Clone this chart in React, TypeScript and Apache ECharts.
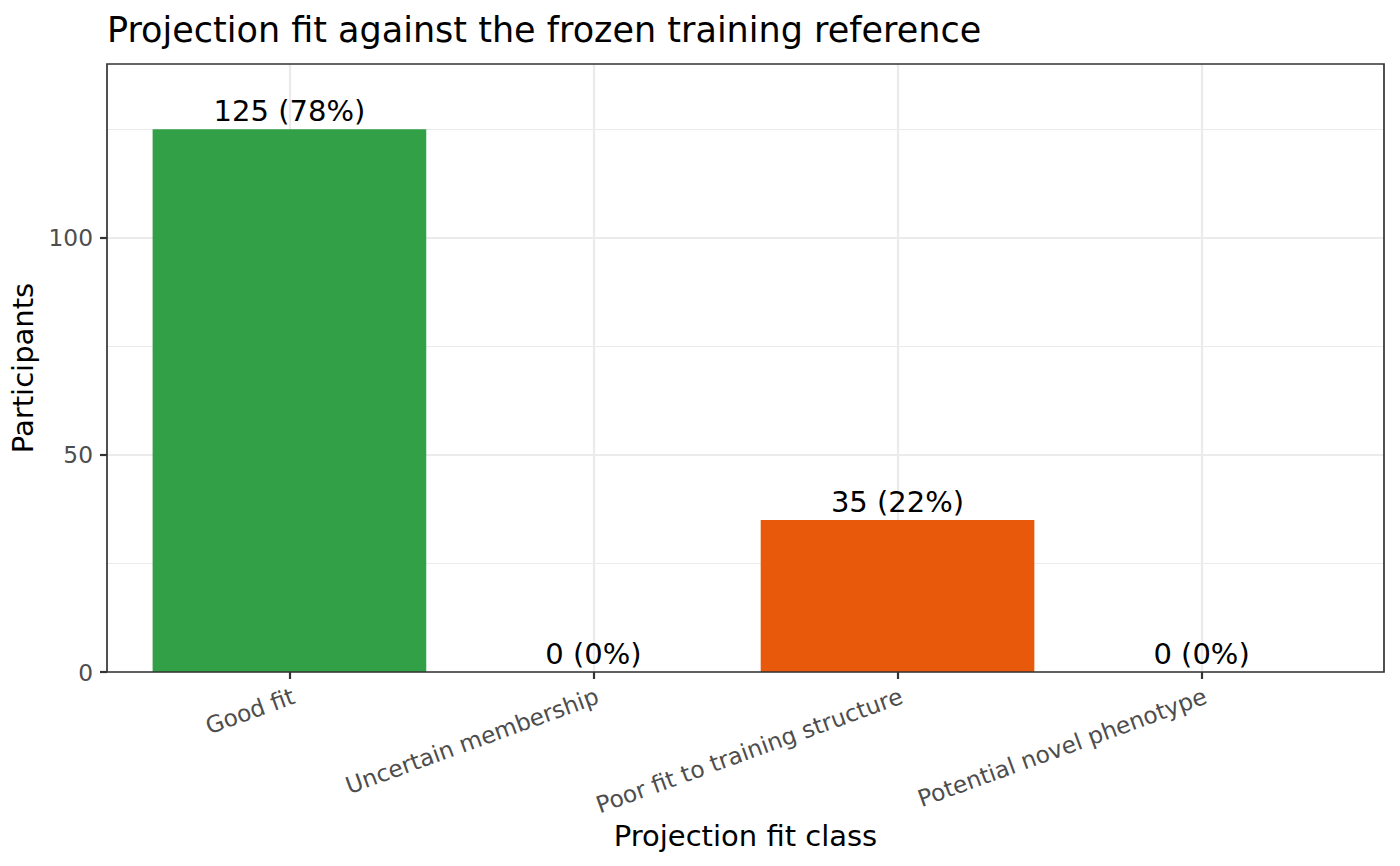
import React, { useEffect, useRef } from "react";
import * as echarts from "echarts";

const categories = [
  "Good fit",
  "Uncertain membership",
  "Poor fit to training structure",
  "Potential novel phenotype",
];
const counts = [125, 0, 35, 0];
const percents = ["78%", "0%", "22%", "0%"];
const barColors = ["#31A047", "#8C8C8C", "#E8590C", "#6A3D9A"];
const yTicks = [0, 50, 100];
const yMax = 140;

const FONT = "DejaVu Sans";

export default function App() {
  const ref = useRef<HTMLDivElement>(null);

  useEffect(() => {
    if (!ref.current) return;
    const chart = echarts.init(ref.current, undefined, { renderer: "svg" });

    const panel = { left: 107, top: 64, width: 1277, height: 608 };
    const unit = panel.width / (categories.length + 0.2);
    const catLeft = panel.left + 0.1 * unit;
    const catWidth = unit * categories.length;

    const option: any = {
      animation: false,
      backgroundColor: "#ffffff",
      textStyle: { fontFamily: FONT },
      title: {
        text: "Projection fit against the frozen training reference",
        left: panel.left,
        top: 12.7,
        padding: 0,
        textStyle: { fontSize: 35, fontWeight: "normal", color: "#000000", fontFamily: FONT },
      },
      grid: [
        { ...panel, show: false, containLabel: false, outerBoundsMode: "none" },
        { left: catLeft, top: panel.top, width: catWidth, height: panel.height, show: false, containLabel: false, outerBoundsMode: "none" },
      ],
      xAxis: [
        { gridIndex: 0, type: "value", min: 0, max: 1, show: false },
        {
          gridIndex: 1,
          type: "category",
          data: categories,
          boundaryGap: true,
          axisLine: { show: false },
          axisTick: { show: true, alignWithLabel: true, length: 7, lineStyle: { color: "#333333", width: 2.2 } },
          axisLabel: {
            interval: 0,
            rotate: 20,
            align: "right",
            verticalAlign: "top",
            margin: 12,
            fontSize: 23.3,
            color: "#4D4D4D",
            fontFamily: FONT,
          },
          splitLine: { show: false },
        },
      ],
      yAxis: [
        {
          gridIndex: 0,
          type: "value",
          min: 0,
          max: yMax,
          interval: 50,
          axisLine: { show: false },
          axisTick: { show: true, length: 7, customValues: yTicks, lineStyle: { color: "#333333", width: 2.2 } },
          axisLabel: { customValues: yTicks, margin: 14, fontSize: 23.3, color: "#4D4D4D", fontFamily: FONT },
          splitLine: { show: true, lineStyle: { color: "#EBEBEB", width: 2.2 } },
          minorTick: { show: false, splitNumber: 2 },
          minorSplitLine: { show: true, lineStyle: { color: "#EBEBEB", width: 1.1 } },
        },
        { gridIndex: 1, type: "value", min: 0, max: yMax, show: false },
      ],
      series: [
        {
          type: "line",
          xAxisIndex: 1,
          yAxisIndex: 1,
          data: [],
          silent: true,
          z: 1,
          markLine: {
            silent: true,
            symbol: "none",
            z: 1,
            label: { show: false },
            emphasis: { disabled: true },
            lineStyle: { color: "#EBEBEB", width: 2.2, type: "solid" },
            data: categories.map((c) => ({ xAxis: c })),
          },
        },
        {
          type: "bar",
          xAxisIndex: 1,
          yAxisIndex: 1,
          z: 3,
          barWidth: 0.9 * unit,
          data: counts.map((v, i) => ({ value: v, itemStyle: { color: barColors[i] } })),
          label: {
            show: true,
            position: "top",
            distance: 3.7,
            fontSize: 29,
            color: "#000000",
            fontFamily: FONT,
            formatter: (p: any) => `${counts[p.dataIndex]} (${percents[p.dataIndex]})`,
          },
        },
      ],
      graphic: [
        {
          type: "rect",
          z: 100,
          silent: true,
          shape: { x: panel.left, y: panel.top, width: panel.width, height: panel.height },
          style: { fill: "none", stroke: "#333333", lineWidth: 1.7 },
        },
        {
          type: "text",
          x: panel.left + panel.width / 2,
          y: 835.5,
          silent: true,
          style: {
            text: "Projection fit class",
            fontSize: 29,
            fontFamily: FONT,
            fill: "#000000",
            align: "center",
            verticalAlign: "middle",
            textAlign: "center",
            textVerticalAlign: "middle",
          },
        },
        {
          type: "text",
          x: 23.3,
          y: panel.top + panel.height / 2,
          rotation: Math.PI / 2,
          silent: true,
          style: {
            text: "Participants",
            fontSize: 29,
            fontFamily: FONT,
            fill: "#000000",
            align: "center",
            verticalAlign: "middle",
            textAlign: "center",
            textVerticalAlign: "middle",
          },
        },
      ],
    };

    chart.setOption(option);
    return () => chart.dispose();
  }, []);

  return (
    <div
      ref={ref}
      style={{ position: "fixed", left: 0, top: 0, width: 1400, height: 866, background: "#fff" }}
    />
  );
}
